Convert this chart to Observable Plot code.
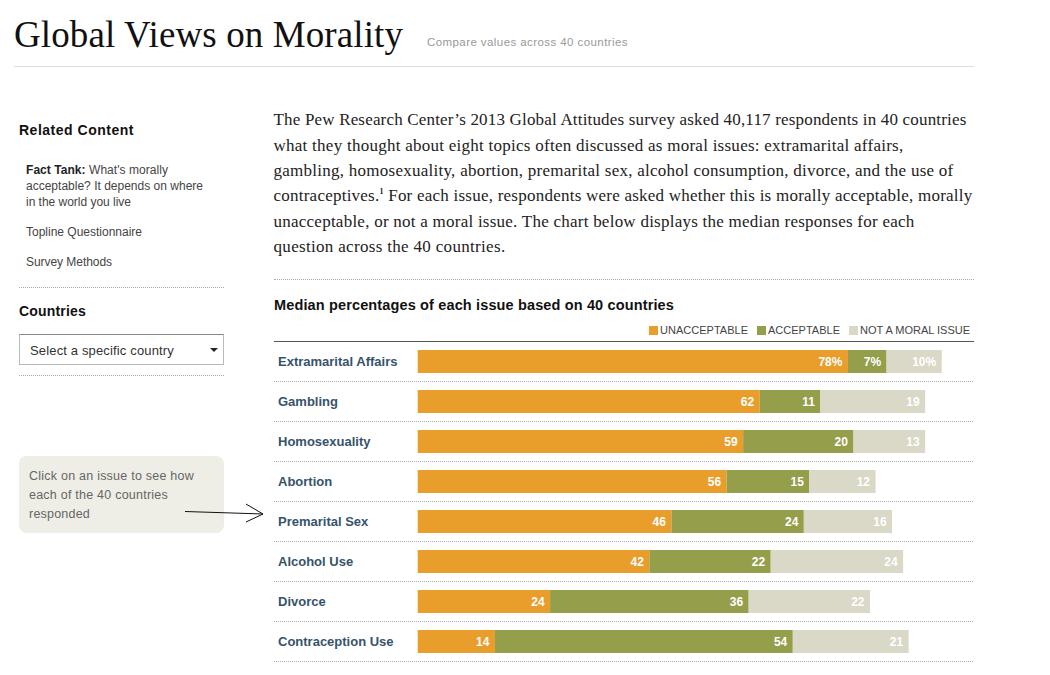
<!DOCTYPE html>
<html><head><meta charset="utf-8">
<script src="https://cdn.jsdelivr.net/npm/d3@7"></script>
<script src="https://cdn.jsdelivr.net/npm/@observablehq/plot@0.6"></script>
<style>
html,body{margin:0;padding:0;background:#fff;overflow:hidden}
body{position:relative;width:1050px;height:675px;font-family:"Liberation Sans",Arial,sans-serif}
.t{position:absolute;white-space:nowrap;line-height:1;transform:translateY(-50%)}
.serif{font-family:"Liberation Serif",serif}
.body{font-size:17px;color:#222;left:273.5px}
.h{font-weight:bold;font-size:14px;color:#111;left:19px}
.side{font-size:12px;color:#444;left:26px}
.note{font-size:12.5px;color:#666;left:29px}
.line{position:absolute;height:0}
.dot{border-top:1px dotted #aaa}
.sw{position:absolute;top:325.5px;width:9px;height:9px}
.lg{font-size:11px;color:#444}
#chart{position:absolute;left:274px;top:341px}
</style></head><body>
<div class="t serif" data-w="389" style="left:14px;top:34px;font-size:37px;color:#111">Global Views on Morality</div>
<div class="t" data-w="201" style="left:427px;top:42.5px;font-size:11.5px;color:#999">Compare values across 40 countries</div>
<div class="line" style="left:14px;top:66px;width:960px;border-top:1px solid #ddd"></div>

<div class="t h" data-w="115" style="top:130px">Related Content</div>
<div class="t side" data-w="142" style="top:170px"><b style="color:#222">Fact Tank:</b> What's morally</div>
<div class="t side" data-w="177" style="top:186px">acceptable? It depends on where</div>
<div class="t side" data-w="105" style="top:202px">in the world you live</div>
<div class="t side" data-w="116" style="top:232px">Topline Questionnaire</div>
<div class="t side" data-w="86" style="top:262px">Survey Methods</div>
<div class="line dot" style="left:19px;top:287px;width:205px"></div>
<div class="t h" data-w="67" style="top:311px">Countries</div>
<div style="position:absolute;left:19px;top:334px;width:203px;height:29px;border:1px solid #bbb;border-top-color:#888"></div>
<div class="t" data-w="144" style="left:30px;top:349.5px;font-size:13px;color:#333">Select a specific country</div>
<div style="position:absolute;left:210px;top:348px;width:0;height:0;border-left:4px solid transparent;border-right:4px solid transparent;border-top:4px solid #222"></div>
<div class="line dot" style="left:19px;top:375px;width:205px"></div>

<div style="position:absolute;left:19px;top:456px;width:205px;height:77px;background:#eeeee6;border-radius:8px"></div>
<div class="t note" data-w="165" style="top:475.5px">Click on an issue to see how</div>
<div class="t note" data-w="139" style="top:494.5px">each of the 40 countries</div>
<div class="t note" data-w="61" style="top:513.5px">responded</div>
<svg style="position:absolute;left:180px;top:500px" width="90" height="30" fill="none" stroke="#111" stroke-width="1"><path d="M5 11.5L83 14M66 4L83 14L66 22"/></svg>

<div class="t serif body" data-w="693" style="top:119px">The Pew Research Center’s 2013 Global Attitudes survey asked 40,117 respondents in 40 countries</div>
<div class="t serif body" data-w="630" style="top:144.5px">what they thought about eight topics often discussed as moral issues: extramarital affairs,</div>
<div class="t serif body" data-w="680" style="top:169.5px">gambling, homosexuality, abortion, premarital sex, alcohol consumption, divorce, and the use of</div>
<div class="t serif body" data-w="699" style="top:194.5px">contraceptives.<sup style="font-size:8px;font-weight:bold;line-height:0">1</sup> For each issue, respondents were asked whether this is morally acceptable, morally</div>
<div class="t serif body" data-w="641" style="top:221px">unacceptable, or not a moral issue. The chart below displays the median responses for each</div>
<div class="t serif body" data-w="232" style="top:246px">question across the 40 countries.</div>
<div class="line dot" style="left:274px;top:279px;width:700px"></div>

<div class="t" data-w="400" style="left:274px;top:305px;font-size:14.5px;font-weight:bold;color:#111">Median percentages of each issue based on 40 countries</div>
<div id="legend"></div>
<div id="chart"></div>
<script>
const issues = ["Extramarital Affairs","Gambling","Homosexuality","Abortion","Premarital Sex","Alcohol Use","Divorce","Contraception Use"];
const unacceptable = [78,62,59,56,46,42,24,14];
const acceptable = [7,11,20,15,24,22,36,54];
const notMoral = [10,19,13,12,16,24,22,21];
const seriesNames = ["UNACCEPTABLE","ACCEPTABLE","NOT A MORAL ISSUE"];
const seriesColors = ["#E99D2B","#959E4A","#DAD8C6"];
const seriesValues = [unacceptable,acceptable,notMoral];

const rows = seriesNames.flatMap((s,k)=>issues.map((issue,i)=>({
  issue, series:s, value:seriesValues[k][i],
  label: seriesValues[k][i] + (i===0 ? "%" : "")
})));

const legendX = [[649,660,88],[757,768,72],[849,860,110]];
const lg = document.getElementById("legend");
seriesNames.forEach((s,k)=>{
  const sw=document.createElement("div");sw.className="sw";sw.style.left=legendX[k][0]+"px";sw.style.background=seriesColors[k];lg.appendChild(sw);
  const t=document.createElement("div");t.className="t lg";t.textContent=s;t.style.left=legendX[k][1]+"px";t.style.top="330px";t.dataset.w=legendX[k][2];lg.appendChild(t);
});

const chart = Plot.plot({
  width:700, height:322,
  marginLeft:0, marginRight:0, marginTop:0, marginBottom:2,
  style:{background:"transparent",fontFamily:"Liberation Sans, Arial, sans-serif",overflow:"visible"},
  x:{domain:[0,100],range:[143.7,695.3],axis:null},
  y:{domain:issues,paddingInner:0.425,paddingOuter:0.2125,align:0.53,label:null},
  color:{domain:seriesNames,range:seriesColors},
  marks:[
    Plot.barX(rows,Plot.stackX({x:"value",y:"issue",z:"series",fill:"series"})),
    Plot.text(rows,Plot.stackX2({x:"value",y:"issue",z:"series",text:"label",textAnchor:"end",dx:-6,fill:"white",fontWeight:"bold",fontSize:12})),
    Plot.ruleY(issues,{y:d=>d,dy:19.5,stroke:"#aaa",strokeDasharray:"1,1"}),
    Plot.ruleY(issues.slice(0,1),{y:d=>d,dy:-20.5,stroke:"#555"}),
    Plot.axisY({anchor:"left",tickSize:0,tickPadding:0,textAnchor:"start",dx:3.5,fontSize:13,fontWeight:"bold",fill:"#36536b",label:null})
  ]
});
document.getElementById("chart").appendChild(chart);

document.querySelectorAll("[data-w]").forEach(e=>{
  const target=+e.dataset.w, w=e.getBoundingClientRect().width, n=e.textContent.length;
  e.style.letterSpacing=((target-w)/n)+"px";
});
</script>
</body></html>
